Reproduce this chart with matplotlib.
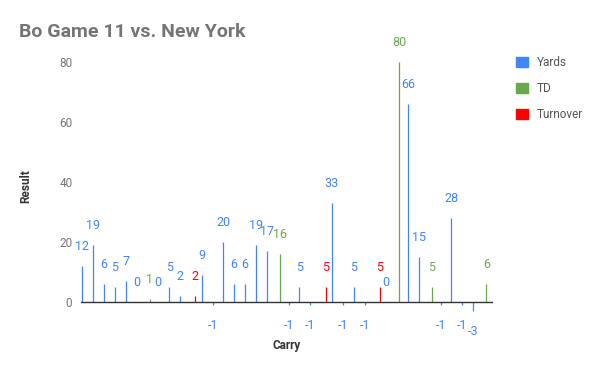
import matplotlib
matplotlib.use("Agg")
from matplotlib import pyplot as plt
from matplotlib.patches import Patch

plt.rcParams['font.family'] = ['Roboto', 'DejaVu Sans']

# 各キャリーの獲得ヤードと種類
results = [12, 19, 6, 5, 7, 0, 1, 0, 5, 2, 2, 9, -1, 20, 6, 6, 19, 17, 16, -1,
           5, -1, 5, 33, -1, 5, -1, 5, 0, 80, 66, 15, 5, -1, 28, -1, -3, 6]
kinds = ['Yards'] * 6 + ['TD'] + ['Yards'] * 3 + ['Turnover'] + ['Yards'] * 7 + ['TD'] \
    + ['Yards'] * 3 + ['Turnover'] + ['Yards'] * 4 + ['Turnover'] + ['Yards'] + ['TD'] \
    + ['Yards'] * 2 + ['TD'] + ['Yards'] * 4 + ['TD']
series = ['Yards', 'TD', 'Turnover']
colors = {'Yards': '#4285F4', 'TD': '#6AA84F', 'Turnover': '#FF0000'}
offsets = {'Yards': -0.21, 'TD': 0.0, 'Turnover': 0.21}

fig = plt.figure(figsize=(6, 3.71), dpi=100)
ax = fig.add_axes([0.1345, 0.088, 0.6877, 0.8086])

for i, (v, k) in enumerate(zip(results, kinds)):
    x = i + offsets[k]
    ax.vlines(x, 0, v, color=colors[k], linewidth=0.9)
    dy = 14.4 if v >= 0 else -14.4
    ax.annotate(str(v), (x, v), xytext=(0, dy), textcoords='offset points',
                ha='center', va='center', fontsize=9, color=colors[k])

ax.axhline(0, color='#333333', linewidth=1)
ax.set_xlim(-0.35, 37.65)
ax.set_ylim(-12, 88)
ax.set_xticks([])
ax.set_yticks([0, 20, 40, 60, 80])
ax.tick_params(axis='y', length=0, labelsize=8.5, labelcolor='#757575', pad=6)
for s in ax.spines.values():
    s.set_visible(False)

# 軸タイトルは図座標で直接置く
fig.text(0.478, 1 - 345 / 371, 'Carry', fontsize=8.5, fontweight='bold',
         color='#333333', ha='center', va='center')
fig.text(26 / 600, 1 - 186 / 371, 'Result', fontsize=8.5, fontweight='bold',
         color='#333333', ha='center', va='center', rotation=90)

fig.text(0.032, 0.915, 'Bo Game 11 vs. New York', fontsize=14, fontweight='bold',
         color='#757575', va='center')

handles = [Patch(color=colors[s]) for s in series]
fig.legend(handles, series, loc='upper left', bbox_to_anchor=(0.842, 0.878),
           frameon=False, fontsize=8.5, labelcolor='#555555', handlelength=1.0,
           handleheight=1.0, labelspacing=1.1, handletextpad=0.8)

fig.savefig('out.png', dpi=100)
